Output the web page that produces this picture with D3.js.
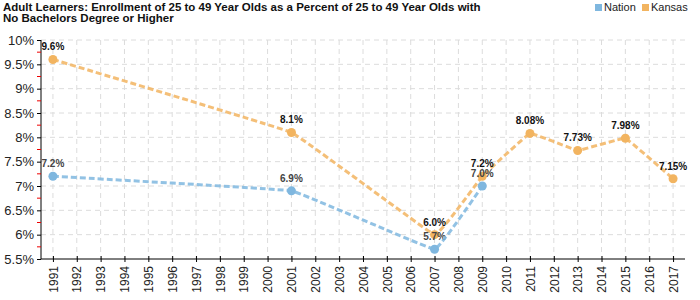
<!DOCTYPE html>
<html>
<head>
<meta charset="utf-8">
<script src="https://cdn.jsdelivr.net/npm/d3@7"></script>
<style>
  body { margin: 0; background: #fff; }
  svg { font-family: "Liberation Sans", Arial, sans-serif; }
</style>
</head>
<body>
<svg id="chart" width="700" height="300"></svg>
<script>
// data
var years = d3.range(1991, 2018);
var nationYears = [1991, 2001, 2007, 2009];
var nationValues = [7.2, 6.9, 5.7, 7.0];
var nationLabels = ["7.2%", "6.9%", "5.7%", "7.0%"];
var kansasYears = [1991, 2001, 2007, 2009, 2011, 2013, 2015, 2017];
var kansasValues = [9.6, 8.1, 6.0, 7.2, 8.08, 7.73, 7.98, 7.15];
var kansasLabels = ["9.6%", "8.1%", "6.0%", "7.2%", "8.08%", "7.73%", "7.98%", "7.15%"];
var yTicks = [5.5, 6, 6.5, 7, 7.5, 8, 8.5, 9, 9.5, 10];

var svg = d3.select("#chart");

var x = d3.scaleLinear().domain([1990.5, 2017.5]).range([41, 685]);
var y = d3.scaleLinear().domain([5.5, 10]).range([259, 40]);

// title
var title = ["Adult Learners: Enrollment of 25 to 49 Year Olds as a Percent of 25 to 49 Year Olds with",
             "No Bachelors Degree or Higher"];
svg.append("g").selectAll("text").data(title).enter().append("text")
    .attr("x", 3).attr("y", function(d, i) { return 11 + i * 11; })
    .attr("font-size", 11.5).attr("font-weight", "bold").attr("fill", "#111")
    .text(function(d) { return d; });

// legend
var legend = [["Nation", "#7fb7df"], ["Kansas", "#f2b460"]];
var lg = svg.append("g").selectAll("g").data(legend).enter().append("g")
    .attr("transform", function(d, i) { return "translate(" + (595 + i * 47) + ",0)"; });
lg.append("rect").attr("x", 0).attr("y", 4).attr("width", 7).attr("height", 7)
    .attr("fill", function(d) { return d[1]; });
lg.append("text").attr("x", 9).attr("y", 11).attr("font-size", 11).attr("fill", "#222")
    .text(function(d) { return d[0]; });

// grid
var grid = svg.append("g").attr("stroke", "#dcdcdc").attr("stroke-dasharray", "5,4");
grid.selectAll(".vg").data(years).enter().append("line")
    .attr("x1", function(d) { return x(d); }).attr("x2", function(d) { return x(d); })
    .attr("y1", 40).attr("y2", 259);
grid.selectAll(".hg").data(yTicks.slice(1)).enter().append("line")
    .attr("x1", 41).attr("x2", 685)
    .attr("y1", function(d) { return y(d); }).attr("y2", function(d) { return y(d); });

// y axis
var yAxis = d3.axisLeft(y).tickValues(yTicks).tickSize(4)
    .tickFormat(function(d) { return d + "%"; });
var yg = svg.append("g").attr("transform", "translate(41,0)").call(yAxis);
yg.select(".domain").remove();
yg.selectAll("text").attr("font-size", 13).attr("fill", "#222").attr("font-family", null);
svg.append("line").attr("x1", 41).attr("x2", 41).attr("y1", 40).attr("y2", 259).attr("stroke", "#000");
// red minor ticks
svg.append("g").selectAll("line").data(d3.range(5.75, 10, 0.5)).enter().append("line")
    .attr("x1", 37).attr("x2", 41)
    .attr("y1", function(d) { return y(d); }).attr("y2", function(d) { return y(d); })
    .attr("stroke", "#e00");

// x axis
var xAxis = d3.axisBottom(x).tickValues(years).tickSize(3).tickFormat(d3.format("d"));
var xg = svg.append("g").attr("transform", "translate(0,259)").call(xAxis);
xg.select(".domain").attr("d", "M41,0H685");
xg.selectAll(".tick line").attr("y1", -3);
xg.selectAll("text")
    .attr("font-size", 12).attr("fill", "#222").attr("font-family", null)
    .attr("transform", "rotate(-90)")
    .attr("text-anchor", "end").attr("dy", "0.35em").attr("x", -7).attr("y", 0);

// series
var line = d3.line().curve(d3.curveCardinal.tension(0.85))
    .x(function(d) { return x(d[0]); }).y(function(d) { return y(d[1]); });

function drawLine(pts, color) {
    var g = svg.append("g");
    g.append("path").datum(pts).attr("d", line)
        .attr("fill", "none").attr("stroke", color).attr("stroke-width", 3)
        .attr("stroke-dasharray", "6,3").attr("opacity", 0.85);
    g.selectAll("circle").data(pts).enter().append("circle")
        .attr("cx", function(d) { return x(d[0]); })
        .attr("cy", function(d) { return y(d[1]); })
        .attr("r", 4.5).attr("fill", color);
}

function drawLabels(pts, labelColor) {
    svg.append("g").selectAll("text").data(pts).enter().append("text")
        .attr("x", function(d) { return x(d[0]); })
        .attr("y", function(d) { return y(d[1]) - 9; })
        .attr("text-anchor", "middle").attr("font-size", 10).attr("font-weight", "bold")
        .attr("fill", labelColor)
        .text(function(d) { return d[2]; });
}

var nationPts = d3.zip(nationYears, nationValues, nationLabels);
var kansasPts = d3.zip(kansasYears, kansasValues, kansasLabels);

drawLine(kansasPts, "#f2b460");
drawLabels(nationPts, "#444");
drawLine(nationPts, "#7fb7df");
drawLabels(kansasPts, "#111");
</script>
</body>
</html>
